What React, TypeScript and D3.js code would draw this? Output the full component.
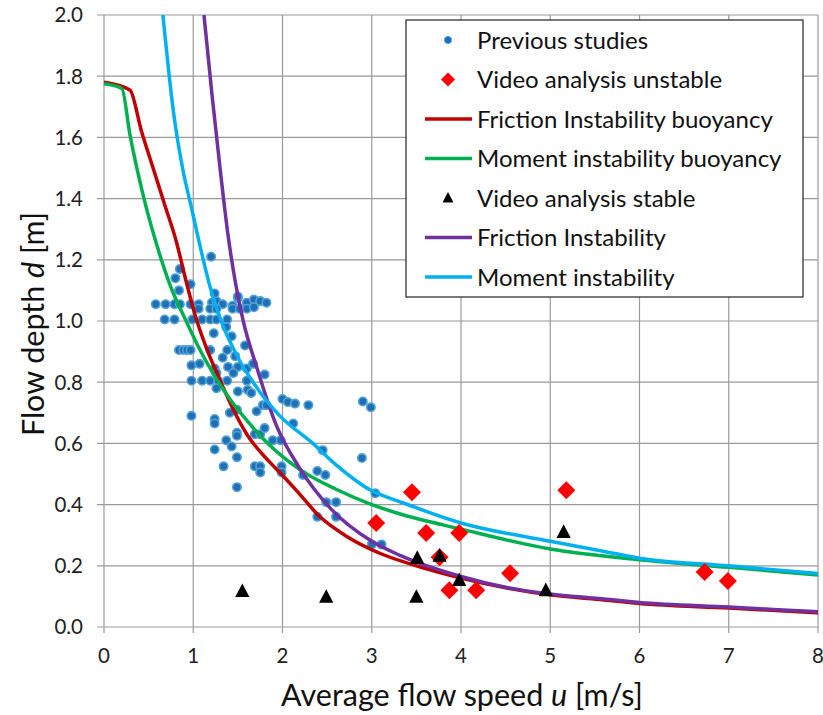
import React from "react";
import * as d3 from "d3";

// ---- data ----
const previousStudies: [number, number][] = [
  [1.2, 1.21], [0.85, 1.17], [0.8, 1.14], [0.97, 1.12], [0.84, 1.1],
  [0.58, 1.055], [0.69, 1.055], [0.79, 1.055], [0.85, 1.055], [0.97, 1.055], [1.06, 1.055], [1.21, 1.06], [1.26, 1.065],
  [1.33, 1.055], [1.44, 1.05], [1.5, 1.075], [1.6, 1.06], [1.68, 1.07], [1.75, 1.065], [1.82, 1.06],
  [1.24, 1.09], [1.5, 1.08], [1.06, 1.04], [1.19, 1.04], [1.26, 1.04], [1.44, 1.04], [1.52, 1.04], [1.6, 1.04], [1.68, 1.045],
  [0.68, 1.005], [0.79, 1.005], [0.99, 1.005], [1.1, 1.005], [1.19, 1.005], [1.26, 1.005], [1.38, 1.005],
  [1.37, 0.98], [1.23, 0.96], [1.43, 0.95], [1.58, 0.92],
  [0.84, 0.905], [0.89, 0.905], [0.93, 0.905], [0.97, 0.905], [1.19, 0.905], [1.38, 0.905],
  [1.33, 0.88], [1.47, 0.885], [0.98, 0.855], [1.07, 0.86], [1.24, 0.845], [1.39, 0.85], [1.5, 0.85], [1.6, 0.845], [1.67, 0.86],
  [1.26, 0.83], [1.45, 0.83], [1.8, 0.825],
  [0.98, 0.805], [1.1, 0.805], [1.19, 0.805], [1.28, 0.805], [1.38, 0.805], [1.6, 0.805],
  [1.26, 0.78], [1.5, 0.77], [1.61, 0.775], [1.65, 0.765],
  [1.78, 0.725], [1.82, 0.725], [1.71, 0.705], [1.41, 0.7], [1.49, 0.71], [0.98, 0.69],
  [1.24, 0.68], [1.24, 0.665], [1.69, 0.63], [1.75, 0.63], [1.49, 0.635], [1.49, 0.625],
  [1.37, 0.61], [1.43, 0.59], [1.89, 0.61], [1.98, 0.61], [1.24, 0.58], [1.49, 0.555],
  [1.34, 0.525], [1.69, 0.525], [1.75, 0.525], [1.75, 0.505], [1.49, 0.457],
  [2.0, 0.745], [2.06, 0.735], [2.14, 0.73], [2.29, 0.725], [2.9, 0.737], [2.99, 0.718],
  [2.12, 0.665], [1.8, 0.65], [1.99, 0.525], [1.99, 0.505],
  [2.45, 0.578], [2.89, 0.552], [2.39, 0.51], [2.48, 0.497], [2.23, 0.497],
  [3.04, 0.437], [2.49, 0.408], [2.6, 0.408], [2.39, 0.36], [2.6, 0.36], [3.0, 0.27], [3.11, 0.27],
];

const videoUnstable: [number, number][] = [
  [3.05, 0.34], [3.45, 0.44], [3.61, 0.307], [3.98, 0.307], [3.76, 0.228],
  [3.87, 0.12], [4.17, 0.12], [4.55, 0.176], [5.18, 0.447], [6.73, 0.18], [6.99, 0.15],
];

const videoStable: [number, number][] = [
  [1.55, 0.117], [2.49, 0.098], [3.5, 0.098], [3.51, 0.225], [3.76, 0.232],
  [3.98, 0.153], [4.95, 0.12], [5.15, 0.31],
];

const frictionBuoyancy: [number, number][] = [
  [0, 1.78], [0.29, 1.755], [0.42, 1.62], [0.55, 1.5], [0.68, 1.38], [0.81, 1.26], [0.92, 1.13],
  [1.02, 1.02], [1.15, 0.91], [1.28, 0.82], [1.45, 0.71], [1.6, 0.63], [1.82, 0.55], [1.97, 0.505],
  [2.16, 0.445], [2.42, 0.36], [2.72, 0.296], [3.09, 0.241], [3.5, 0.2], [4.0, 0.16], [4.5, 0.128],
  [5.0, 0.105], [5.55, 0.09], [6, 0.077], [7, 0.062], [8, 0.046],
];

const momentBuoyancy: [number, number][] = [
  [0, 1.775], [0.2, 1.76], [0.29, 1.61], [0.44, 1.41], [0.59, 1.25], [0.75, 1.11], [0.92, 1.0],
  [1.05, 0.92], [1.22, 0.83], [1.41, 0.745], [1.6, 0.675], [1.8, 0.61], [2.19, 0.515], [2.6, 0.45],
  [3.0, 0.4], [3.31, 0.37], [4.0, 0.32], [5.0, 0.255], [6, 0.22], [7, 0.195], [8, 0.17],
];

const frictionInstability: [number, number][] = [
  [1.12, 2.0], [1.21, 1.74], [1.3, 1.5], [1.39, 1.28], [1.47, 1.13], [1.56, 1.0], [1.71, 0.85],
  [1.93, 0.66], [2.19, 0.52], [2.53, 0.39], [3.0, 0.28], [3.31, 0.235], [4.0, 0.165], [4.5, 0.13],
  [5.0, 0.108], [5.55, 0.093], [6, 0.08], [7, 0.065], [8, 0.05],
];

const momentInstability: [number, number][] = [
  [0.66, 2.0], [0.78, 1.68], [0.88, 1.5], [0.98, 1.37], [1.08, 1.24], [1.19, 1.11], [1.3, 1.01],
  [1.52, 0.87], [1.67, 0.8], [1.82, 0.74], [1.97, 0.69], [2.34, 0.6], [2.6, 0.53], [3.0, 0.445],
  [3.31, 0.41], [4.0, 0.34], [5.0, 0.28], [5.55, 0.25], [6, 0.225], [7, 0.2], [8, 0.175],
];

const xTicks = [0, 1, 2, 3, 4, 5, 6, 7, 8];
const yTicks = [0, 0.2, 0.4, 0.6, 0.8, 1.0, 1.2, 1.4, 1.6, 1.8, 2.0];

const legendLabels = [
  "Previous studies",
  "Video analysis unstable",
  "Friction Instability buoyancy",
  "Moment instability buoyancy",
  "Video analysis stable",
  "Friction Instability",
  "Moment instability",
];

const C_RED = "#C00000";
const C_GREEN = "#00B050";
const C_PURPLE = "#7030A0";
const C_CYAN = "#00B0F0";
const C_DOT = "#1F6FB2";
const C_DOT_RING = "#4FA3DA";
const C_DIAMOND = "#FF0000";

const W = 823;
const H = 715;
const FONT = "Lato, 'Open Sans', sans-serif";

export default function App() {
  const x = d3.scaleLinear().domain([0, 8]).range([104, 818]);
  const y = d3.scaleLinear().domain([0, 2]).range([627, 15]);
  const line = d3
    .line<[number, number]>()
    .x((d) => x(d[0]))
    .y((d) => y(d[1]))
    .curve(d3.curveMonotoneX);

  const diamond = (cx: number, cy: number, r: number) =>
    `M${cx},${cy - r}L${cx + r},${cy}L${cx},${cy + r}L${cx - r},${cy}Z`;
  const triangle = (cx: number, cy: number, s: number) =>
    `M${cx},${cy - s * 0.6}L${cx + s * 0.55},${cy + s * 0.45}L${cx - s * 0.55},${cy + s * 0.45}Z`;

  const lines: { data: [number, number][]; color: string }[] = [
    { data: frictionBuoyancy, color: C_RED },
    { data: momentBuoyancy, color: C_GREEN },
    { data: frictionInstability, color: C_PURPLE },
    { data: momentInstability, color: C_CYAN },
  ];

  const [x0, x1] = x.range();
  const [y0, y1] = y.range();

  // legend layout
  const lgX = 406, lgY = 20, lgW = 397, lgH = 277;
  const rowY = (i: number) => 40 + i * 39.5;

  return (
    <svg
      width={W}
      height={H}
      style={{ position: "absolute", left: 0, top: 0, background: "#fff" }}
      fontFamily={FONT}
    >
      <defs>
        <clipPath id="plotclip">
          <rect x={x0 - 2} y={y1} width={x1 - x0 + 4} height={y0 - y1} />
        </clipPath>
      </defs>
      <rect x={0} y={0} width={W} height={H} fill="#fff" />
      {/* gridlines */}
      {yTicks.map((t) => (
        <line key={"gy" + t} x1={x0 - 7} x2={x1} y1={y(t)} y2={y(t)} stroke="#9a9a9a" strokeWidth={1.2} />
      ))}
      {xTicks.map((t) => (
        <line key={"gx" + t} x1={x(t)} x2={x(t)} y1={y1} y2={y0 + 6} stroke="#9a9a9a" strokeWidth={1.2} />
      ))}
      {/* y tick labels */}
      {yTicks.map((t) => (
        <text key={"ty" + t} x={83} y={y(t)} dy="0.36em" textAnchor="end" fontSize={20.5} fill="#222">
          {t.toFixed(1)}
        </text>
      ))}
      {xTicks.map((t) => (
        <text key={"tx" + t} x={x(t)} y={663} textAnchor="middle" fontSize={20.5} fill="#222">
          {t}
        </text>
      ))}
      {/* axis titles */}
      <text x={462} y={706} textAnchor="middle" fontSize={30.5} fill="#111">
        Average flow speed <tspan fontStyle="italic">u</tspan> [m/s]
      </text>
      <text
        transform={`translate(44,324) rotate(-90)`}
        textAnchor="middle"
        fontSize={30.5}
        fill="#111"
      >
        Flow depth <tspan fontStyle="italic">d</tspan> [m]
      </text>

      <g clipPath="url(#plotclip)">
        {previousStudies.map((d, i) => (
          <circle key={"p" + i} cx={x(d[0])} cy={y(d[1])} r={4.2} fill={C_DOT} stroke={C_DOT_RING} strokeWidth={1.6} />
        ))}
        {lines.map((l, i) => (
          <path key={"l" + i} d={line(l.data) || ""} fill="none" stroke={l.color} strokeWidth={3.5} strokeLinejoin="round" />
        ))}
        {videoUnstable.map((d, i) => (
          <path key={"u" + i} d={diamond(x(d[0]), y(d[1]), 9)} fill={C_DIAMOND} />
        ))}
        {videoStable.map((d, i) => (
          <path key={"s" + i} d={triangle(x(d[0]), y(d[1]), 13)} fill="#000" />
        ))}
      </g>

      {/* legend */}
      <rect x={lgX} y={lgY} width={lgW} height={lgH} fill="#fff" stroke="#222" strokeWidth={1.2} />
      <circle cx={448} cy={rowY(0)} r={3.6} fill={C_DOT} stroke={C_DOT_RING} strokeWidth={1} />
      <path d={diamond(448, rowY(1), 7)} fill={C_DIAMOND} />
      <line x1={425} x2={472} y1={rowY(2)} y2={rowY(2)} stroke={C_RED} strokeWidth={3.5} />
      <line x1={425} x2={472} y1={rowY(3)} y2={rowY(3)} stroke={C_GREEN} strokeWidth={3.5} />
      <path d={triangle(448, rowY(4), 10)} fill="#000" />
      <line x1={425} x2={472} y1={rowY(5)} y2={rowY(5)} stroke={C_PURPLE} strokeWidth={3.5} />
      <line x1={425} x2={472} y1={rowY(6)} y2={rowY(6)} stroke={C_CYAN} strokeWidth={3.5} />
      {legendLabels.map((t, i) => (
        <text key={"lg" + i} x={477} y={rowY(i)} dy="0.36em" fontSize={24} fill="#111">
          {t}
        </text>
      ))}
    </svg>
  );
}
